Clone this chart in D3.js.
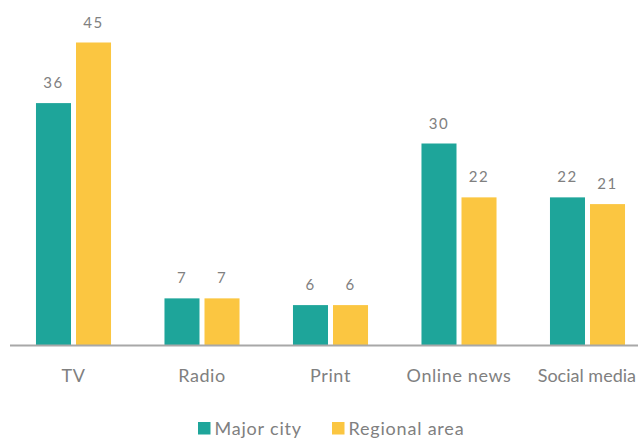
<!DOCTYPE html>
<html>
<head>
<meta charset="utf-8">
<script src="https://cdn.jsdelivr.net/npm/d3@7"></script>
<style>
  html, body { margin: 0; padding: 0; background: #fff; }
  svg { display: block; }
  text { font-family: Lato, "Open Sans", sans-serif; fill: #808080; font-weight: 400; }
</style>
</head>
<body>
<svg id="chart" width="638" height="441"></svg>
<script>
const categories = ["TV", "Radio", "Print", "Online news", "Social media"];
const seriesNames = ["Major city", "Regional area"];
const majorCity = [36, 7, 6, 30, 22];
const regionalArea = [45, 7, 6, 22, 21];
const seriesColors = ["#1ea59a", "#fbc641"];

const svg = d3.select("#chart");
const baseY = 345.5;

const x = d3.scaleBand().domain(categories).range([9.25, 651.75])
  .paddingInner(0.416).paddingOuter(0.208);
const xs = d3.scaleBand().domain(seriesNames).range([0, x.bandwidth()])
  .paddingInner(0.125).paddingOuter(0);
const y = d3.scaleLinear().domain([0, 45]).range([baseY, 42.5]);

const data = categories.map((c, i) => ({
  cat: c,
  vals: [
    { s: seriesNames[0], v: majorCity[i], color: seriesColors[0] },
    { s: seriesNames[1], v: regionalArea[i], color: seriesColors[1] }
  ]
}));

const g = svg.append("g");
const groups = g.selectAll("g.grp").data(data).join("g")
  .attr("transform", d => `translate(${x(d.cat)},0)`);

groups.selectAll("rect").data(d => d.vals).join("rect")
  .attr("x", d => xs(d.s))
  .attr("y", d => y(d.v))
  .attr("width", xs.bandwidth())
  .attr("height", d => y(0) - y(d.v))
  .attr("fill", d => d.color);

groups.selectAll("text.val").data(d => d.vals).join("text")
  .attr("class", "val")
  .attr("x", d => xs(d.s) + xs.bandwidth() / 2)
  .attr("y", d => y(d.v) - 15)
  .attr("text-anchor", "middle")
  .attr("font-size", 15)
  .style("letter-spacing", "1.5px")
  .text(d => d.v);

// baseline axis
const xAxis = d3.axisBottom(x).tickSize(0).tickPadding(24);
const ax = svg.append("g").attr("transform", `translate(0,${baseY})`).call(xAxis);
ax.select(".domain").attr("d", `M10,0H638`).attr("stroke", "#a8a8a8").attr("stroke-width", 2);
ax.selectAll(".tick text").attr("font-size", 18).attr("fill", "#808080")
  .style("font-family", "Lato, sans-serif")
  .style("letter-spacing", "0.6px");
// last label would run past the right edge: keep it inside
ax.selectAll(".tick").filter(d => d === categories[categories.length - 1])
  .select("text")
  .style("letter-spacing", "0px")
  .attr("text-anchor", "end")
  .attr("x", function() { return 636 - x(categories[categories.length - 1]) - x.bandwidth() / 2; });

// legend
const legendItems = [
  { name: seriesNames[0], color: seriesColors[0], x: 198 },
  { name: seriesNames[1], color: seriesColors[1], x: 332 }
];
const lg = svg.append("g").selectAll("g").data(legendItems).join("g")
  .attr("transform", d => `translate(${d.x},422)`);
lg.append("rect").attr("width", 12.5).attr("height", 12.5).attr("fill", d => d.color);
lg.append("text").attr("x", 16.5).attr("y", 12.5).attr("font-size", 18)
  .style("letter-spacing", "0.8px").text(d => d.name);
</script>
</body>
</html>
